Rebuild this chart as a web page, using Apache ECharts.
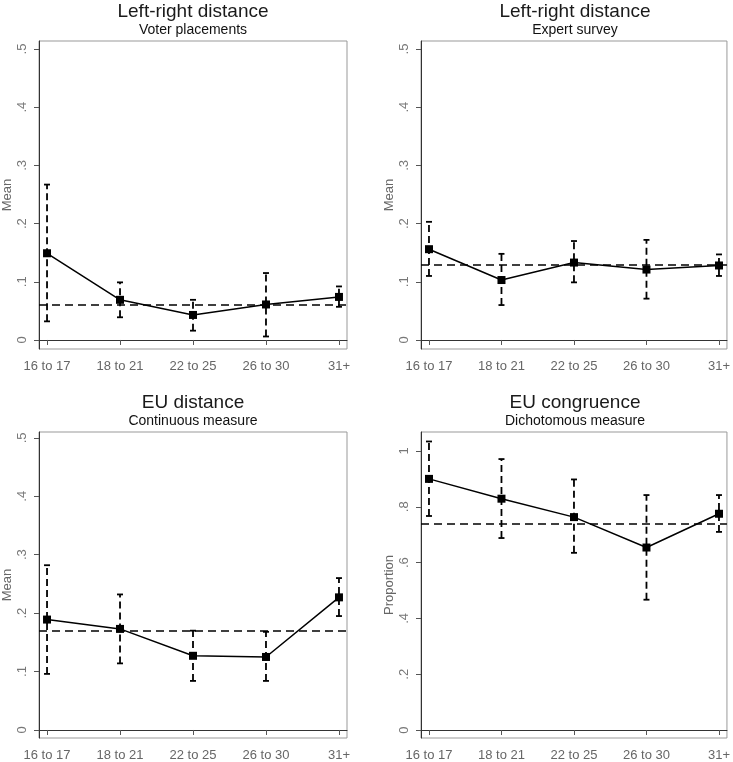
<!DOCTYPE html>
<html>
<head>
<meta charset="utf-8">
<script src="https://cdn.jsdelivr.net/npm/echarts@6.0.0/dist/echarts.min.js"></script>
<style>
html,body{margin:0;padding:0;background:#fff;}
#chart{width:733px;height:762px;}
</style>
</head>
<body>
<div id="chart"></div>
<script>
// ---- data ----
const ageGroups = ['16 to 17', '18 to 21', '22 to 25', '26 to 30', '31+'];

const lrVoterMean = [0.149, 0.069, 0.043, 0.061, 0.074];
const lrVoterLo   = [0.032, 0.039, 0.016, 0.006, 0.057];
const lrVoterHi   = [0.267, 0.099, 0.069, 0.115, 0.092];
const lrVoterRef  = 0.060;

const lrExpertMean = [0.156, 0.103, 0.133, 0.121, 0.128];
const lrExpertLo   = [0.110, 0.060, 0.099, 0.071, 0.110];
const lrExpertHi   = [0.203, 0.148, 0.170, 0.172, 0.147];
const lrExpertRef  = 0.129;

const euDistMean = [0.189, 0.173, 0.127, 0.125, 0.227];
const euDistLo   = [0.096, 0.114, 0.084, 0.084, 0.195];
const euDistHi   = [0.282, 0.232, 0.170, 0.168, 0.260];
const euDistRef  = 0.169;

const euCongMean = [0.900, 0.829, 0.763, 0.654, 0.775];
const euCongLo   = [0.767, 0.688, 0.635, 0.467, 0.710];
const euCongHi   = [1.034, 0.971, 0.898, 0.842, 0.842];
const euCongRef  = 0.742;

const meanTicks = [0, 0.1, 0.2, 0.3, 0.4, 0.5];
const propTicks = [0, 0.2, 0.4, 0.6, 0.8, 1];

const panels = [
  {title: 'Left-right distance', sub: 'Voter placements', yName: 'Mean', ticks: meanTicks, ymin: -0.0155, ymax: 0.5137,
   mean: lrVoterMean, lo: lrVoterLo, hi: lrVoterHi, ref: lrVoterRef, left: 39, top: 41, height: 308},
  {title: 'Left-right distance', sub: 'Expert survey', yName: 'Mean', ticks: meanTicks, ymin: -0.0155, ymax: 0.5137,
   mean: lrExpertMean, lo: lrExpertLo, hi: lrExpertHi, ref: lrExpertRef, left: 421, top: 41, height: 308},
  {title: 'EU distance', sub: 'Continuous measure', yName: 'Mean', ticks: meanTicks, ymin: -0.0137, ymax: 0.510,
   mean: euDistMean, lo: euDistLo, hi: euDistHi, ref: euDistRef, left: 39, top: 432, height: 307},
  {title: 'EU congruence', sub: 'Dichotomous measure', yName: 'Proportion', ticks: propTicks, ymin: -0.0286, ymax: 1.068,
   mean: euCongMean, lo: euCongLo, hi: euCongHi, ref: euCongRef, left: 421, top: 432, height: 307}
];

const W = 308;
const fontFam = '"Liberation Sans", Arial, sans-serif';
const tickFmt = v => {
  const r = Math.round(v * 10) / 10;
  if (r === 0) return '0';
  if (r === 1) return '1';
  return String(r).replace(/^0/, '');
};

const option = {
  animation: false,
  backgroundColor: '#fff',
  title: [], grid: [], xAxis: [], yAxis: [], series: []
};

panels.forEach((p, i) => {
  const cx = p.left + W / 2;
  option.title.push({
    text: p.title, left: cx, top: p.top - 39, textAlign: 'center', padding: 0,
    textStyle: {fontFamily: fontFam, fontSize: 19, fontWeight: 'normal', color: '#1a1a1a'}
  });
  option.title.push({
    text: p.sub, left: cx, top: p.top - 18, textAlign: 'center', padding: 0,
    textStyle: {fontFamily: fontFam, fontSize: 14, fontWeight: 'normal', color: '#111'}
  });
  option.grid.push({
    left: p.left, top: p.top, width: W, height: p.height,
    show: true, borderColor: '#999', borderWidth: 1, backgroundColor: 'transparent'
  });
  option.xAxis.push({
    type: 'value', gridIndex: i, min: 0.89, max: 5.11,
    axisLine: {show: true, lineStyle: {color: '#333', width: 1}},
    axisTick: {show: true, length: 5, lineStyle: {color: '#555'}, customValues: [1, 2, 3, 4, 5]},
    axisLabel: {show: true, customValues: [1, 2, 3, 4, 5], formatter: v => ageGroups[Math.round(v) - 1],
      fontFamily: fontFam, fontSize: 13, color: '#666', margin: 11},
    splitLine: {show: false}
  });
  option.yAxis.push({
    type: 'value', gridIndex: i, min: p.ymin, max: p.ymax,
    name: p.yName, nameLocation: 'middle', nameGap: 25,
    nameTextStyle: {fontFamily: fontFam, fontSize: 13, color: '#666'},
    axisLine: {show: true, lineStyle: {color: '#333', width: 1}},
    axisTick: {show: true, length: 5, lineStyle: {color: '#555'}, customValues: p.ticks},
    axisLabel: {show: true, customValues: p.ticks, formatter: tickFmt, rotate: 90,
      fontFamily: fontFam, fontSize: 13, color: '#777', margin: 10},
    splitLine: {show: false}
  });
  const errData = p.mean.map((m, k) => [k + 1, p.lo[k], p.hi[k]]);
  option.series.push({
    type: 'custom', xAxisIndex: i, yAxisIndex: i, data: errData, z: 2,
    renderItem: (params, api) => {
      const x = api.value(0);
      const a = api.coord([x, api.value(1)]);
      const b = api.coord([x, api.value(2)]);
      const cap = 3;
      const st = {stroke: '#000', lineWidth: 1.8};
      return {type: 'group', children: [
        {type: 'line', shape: {x1: a[0], y1: a[1], x2: b[0], y2: b[1]}, style: Object.assign({lineDash: [7, 4]}, st)},
        {type: 'line', shape: {x1: a[0] - cap, y1: a[1], x2: a[0] + cap, y2: a[1]}, style: st},
        {type: 'line', shape: {x1: b[0] - cap, y1: b[1], x2: b[0] + cap, y2: b[1]}, style: st}
      ]};
    }
  });
  option.series.push({
    type: 'line', xAxisIndex: i, yAxisIndex: i, z: 3,
    data: p.mean.map((m, k) => [k + 1, m]),
    symbol: 'rect', symbolSize: 8, showSymbol: true,
    lineStyle: {color: '#000', width: 1.5}, itemStyle: {color: '#000'},
    markLine: {
      silent: true, symbol: 'none', label: {show: false},
      lineStyle: {color: '#000', width: 1.5, type: [8, 5]},
      data: [{yAxis: p.ref}]
    }
  });
});

const chart = echarts.init(document.getElementById('chart'), null, {renderer: 'canvas'});
chart.setOption(option);
</script>
</body>
</html>
